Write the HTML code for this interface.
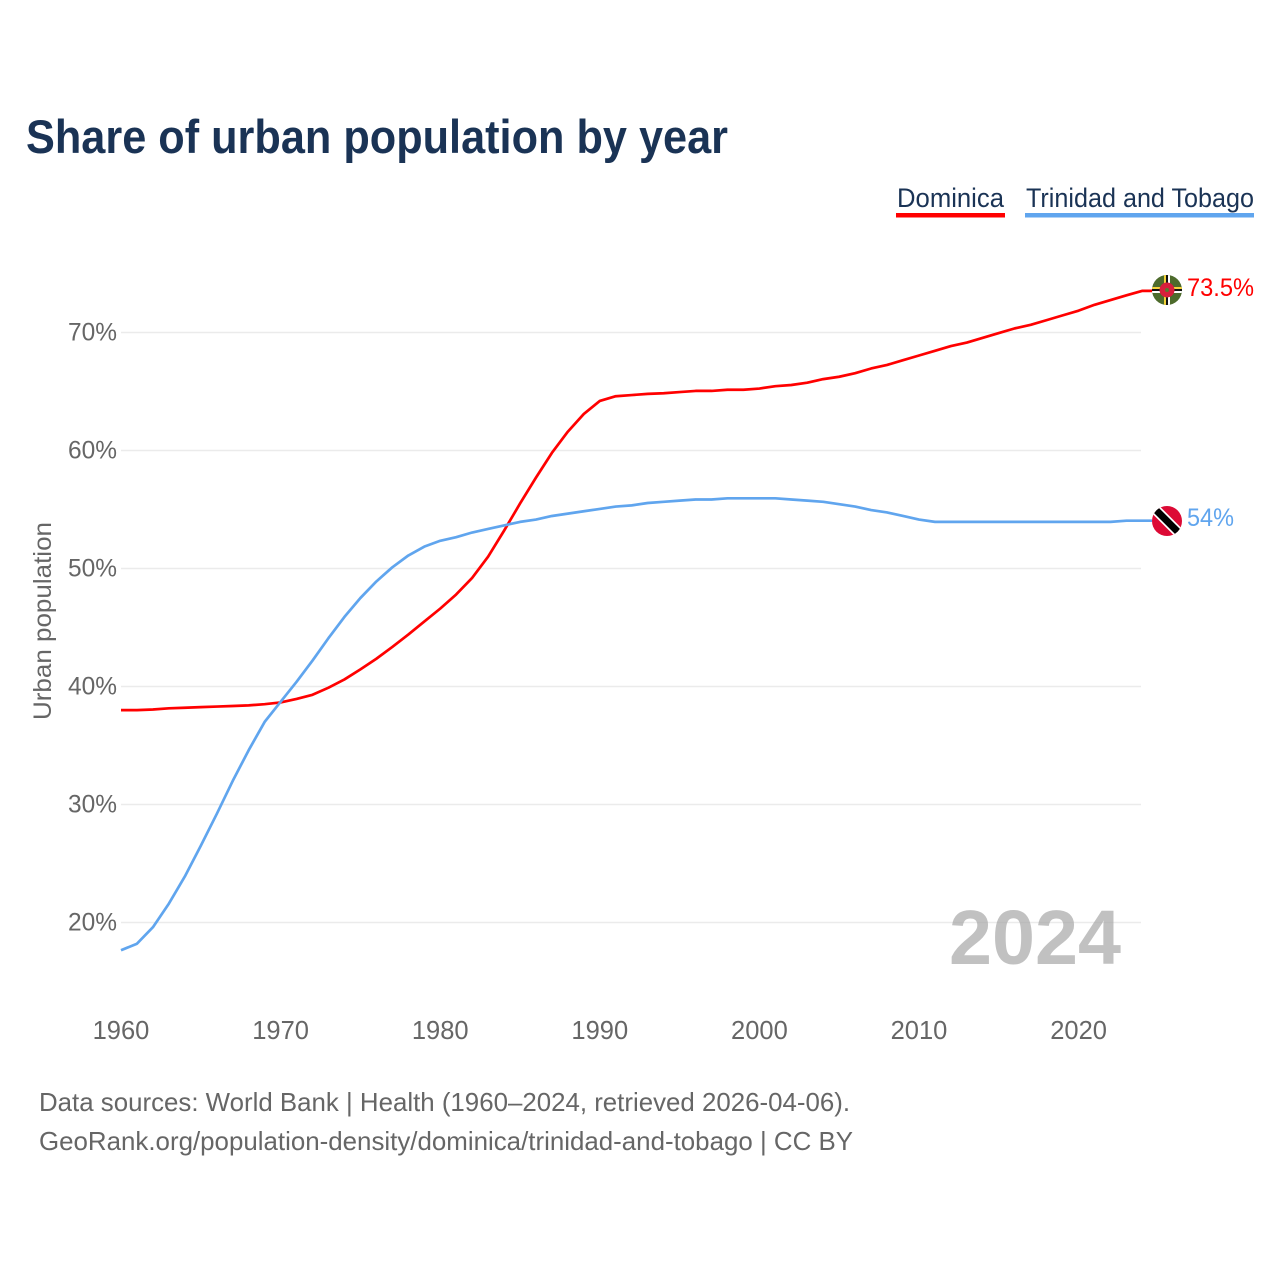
<!DOCTYPE html>
<html lang="en">
<head>
<meta charset="utf-8">
<title>Share of urban population by year</title>
<style>
html,body{margin:0;padding:0;background:#fff;width:1280px;height:1280px;overflow:hidden}
svg{display:block}
text{font-family:"Liberation Sans",sans-serif}
</style>
</head>
<body>
<svg id="chart" xmlns="http://www.w3.org/2000/svg" width="1280" height="1280" viewBox="0 0 1280 1280">
  <defs>
    <clipPath id="clip-dm"><circle cx="1167" cy="290" r="15"/></clipPath>
    <clipPath id="clip-tt"><circle cx="1167" cy="521" r="15"/></clipPath>
  </defs>
  <rect width="1280" height="1280" fill="#fff"/>
  <text x="26" y="153" font-size="47" font-weight="700" fill="#1a3355" textLength="702" lengthAdjust="spacingAndGlyphs">Share of urban population by year</text>

  <g>
    <g>
      <text x="897" y="207" font-size="27" fill="#1a3355" textLength="107" lengthAdjust="spacingAndGlyphs">Dominica</text>
      <rect x="896" y="213" width="109" height="4.5" fill="#ff0000"/>
    </g>
    <g>
      <text x="1026" y="207" font-size="27" fill="#1a3355" textLength="228" lengthAdjust="spacingAndGlyphs">Trinidad and Tobago</text>
      <rect x="1025" y="213" width="229" height="4.5" fill="#60a5ee"/>
    </g>
  </g>

  <g id="grid"></g>
  <g id="yticks"></g>
  <g id="xticks"></g>

  <text transform="translate(51,720) rotate(-90)" x="0" y="0" font-size="25" fill="#666666" textLength="198" lengthAdjust="spacingAndGlyphs">Urban population</text>

  <text x="949" y="964" font-size="77" font-weight="700" fill="#a6a6a6" fill-opacity="0.7" textLength="172" lengthAdjust="spacingAndGlyphs">2024</text>

  <g id="series"></g>

  <g clip-path="url(#clip-dm)">
    <rect x="1152" y="275" width="30" height="30" fill="#4d6b2c"/>
    <rect x="1164" y="275" width="2" height="30" fill="#f5d33a"/>
    <rect x="1166" y="275" width="2" height="30" fill="#111"/>
    <rect x="1168" y="275" width="2" height="30" fill="#fff"/>
    <rect x="1152" y="287" width="30" height="2" fill="#f5d33a"/>
    <rect x="1152" y="289" width="30" height="2" fill="#111"/>
    <rect x="1152" y="291" width="30" height="2" fill="#fff"/>
    <circle cx="1167" cy="290" r="7.5" fill="#d81f3c"/>
    <circle cx="1167" cy="290" r="2" fill="#5a7a30"/>
  </g>
  <g clip-path="url(#clip-tt)">
    <rect x="1152" y="506" width="30" height="30" fill="#dc0a35"/>
    <line x1="1152" y1="506" x2="1182" y2="536" stroke="#fff" stroke-width="10.5" transform="translate(-2,-2)"/>
    <line x1="1152" y1="506" x2="1182" y2="536" stroke="#000" stroke-width="7" transform="translate(-2,-2)"/>
  </g>

  <text x="1187" y="296" font-size="25" fill="#ff0000" textLength="67" lengthAdjust="spacingAndGlyphs">73.5%</text>
  <text x="1187" y="526" font-size="25" fill="#60a5ee" textLength="47" lengthAdjust="spacingAndGlyphs">54%</text>

  <text x="39" y="1111" font-size="26" fill="#666666" textLength="811" lengthAdjust="spacingAndGlyphs">Data sources: World Bank | Health (1960–2024, retrieved 2026-04-06).</text>
  <text x="39" y="1150" font-size="26" fill="#666666" textLength="814" lengthAdjust="spacingAndGlyphs">GeoRank.org/population-density/dominica/trinidad-and-tobago | CC BY</text>
</svg>
<script>
const startYear = 1960;
const yTickValues = [20, 30, 40, 50, 60, 70];
const yTickLabels = ["20%", "30%", "40%", "50%", "60%", "70%"];
const xTickValues = [1960, 1970, 1980, 1990, 2000, 2010, 2020];
const xTickLabels = ["1960", "1970", "1980", "1990", "2000", "2010", "2020"];
const dominica = [38.0,38.0,38.05,38.15,38.2,38.25,38.3,38.35,38.4,38.5,38.65,38.95,39.3,39.9,40.6,41.45,42.35,43.35,44.4,45.5,46.6,47.8,49.2,51.0,53.2,55.5,57.7,59.8,61.6,63.1,64.2,64.6,64.7,64.8,64.85,64.95,65.05,65.05,65.15,65.15,65.25,65.45,65.55,65.75,66.05,66.25,66.55,66.95,67.25,67.65,68.05,68.45,68.85,69.15,69.55,69.95,70.35,70.65,71.05,71.45,71.85,72.35,72.75,73.15,73.53];
const trinidad = [17.65,18.2,19.6,21.6,23.9,26.5,29.2,32.0,34.6,37.0,38.7,40.4,42.2,44.1,45.9,47.5,48.9,50.1,51.1,51.85,52.35,52.65,53.05,53.35,53.65,53.95,54.15,54.45,54.65,54.85,55.05,55.25,55.35,55.55,55.65,55.75,55.85,55.85,55.95,55.95,55.95,55.95,55.85,55.75,55.65,55.45,55.25,54.95,54.75,54.45,54.15,53.95,53.95,53.95,53.95,53.95,53.95,53.95,53.95,53.95,53.95,53.95,53.95,54.05,54.05];

const NS = "http://www.w3.org/2000/svg";
function xScale(year) { return 121 + (year - 1960) * 15.96; }
function yScale(v) { return 922.5 - (v - 20) * 11.8; }

const gridG = document.getElementById("grid");
const yG = document.getElementById("yticks");
const xG = document.getElementById("xticks");
const seriesG = document.getElementById("series");

yTickValues.forEach(function (v, i) {
  const line = document.createElementNS(NS, "line");
  
  
  line.setAttribute("x1", 121);
  line.setAttribute("x2", 1141);
  line.setAttribute("y1", yScale(v));
  line.setAttribute("y2", yScale(v));
  line.setAttribute("stroke", "#ebebeb");
  line.setAttribute("stroke-width", "1.4");
  gridG.appendChild(line);

  const t = document.createElementNS(NS, "text");
  
  
  t.setAttribute("x", 68);
  t.setAttribute("y", yScale(v) + 8);
  t.setAttribute("font-size", "25");
  t.setAttribute("fill", "#666666");
  t.setAttribute("textLength", "49");
  t.setAttribute("lengthAdjust", "spacingAndGlyphs");
  t.textContent = yTickLabels[i];
  yG.appendChild(t);
});

xTickValues.forEach(function (yr, i) {
  const t = document.createElementNS(NS, "text");
  
  
  t.setAttribute("x", xScale(yr));
  t.setAttribute("y", 1039);
  t.setAttribute("font-size", "25.5");
  t.setAttribute("fill", "#666666");
  t.setAttribute("text-anchor", "middle");
  t.textContent = xTickLabels[i];
  xG.appendChild(t);
});

function drawSeries(values, color, name) {
  const pts = values.map(function (v, i) {
    return xScale(startYear + i).toFixed(2) + "," + yScale(v).toFixed(2);
  });
  const last = values[values.length - 1];
  pts.push("1152," + yScale(last).toFixed(2));
  const line = document.createElementNS(NS, "polyline");
  
  
  line.setAttribute("points", pts.join(" "));
  line.setAttribute("fill", "none");
  line.setAttribute("stroke", color);
  line.setAttribute("stroke-width", "2.7");
  line.setAttribute("stroke-linejoin", "round");
  seriesG.appendChild(line);
}
drawSeries(dominica, "#ff0000", "line-dominica");
drawSeries(trinidad, "#60a5ee", "line-trinidad-and-tobago");
</script>
</body>
</html>
